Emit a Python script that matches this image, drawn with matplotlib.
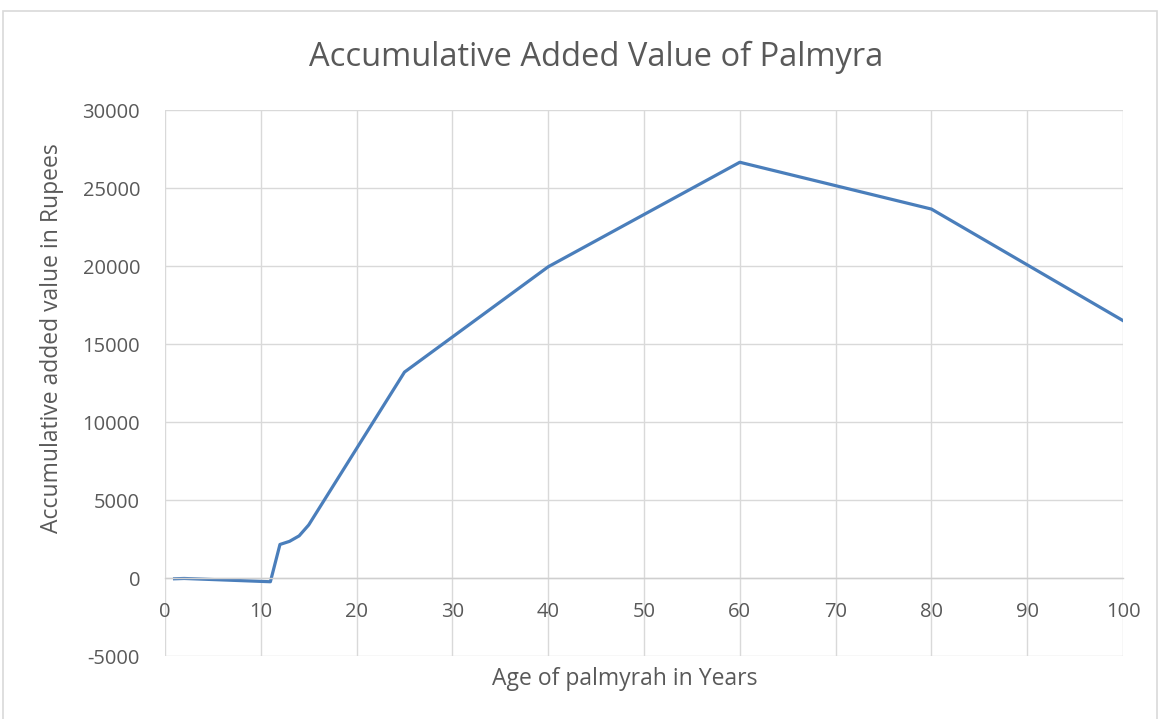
import matplotlib
matplotlib.use("Agg")
import matplotlib.pyplot as plt
from matplotlib.patches import Rectangle

ages = [1, 2, 11, 12, 13, 14, 15, 25, 40, 60, 80, 100]
values = [-50, -30, -240, 2150, 2350, 2700, 3400, 13200, 19950, 26650, 23650, 16500]
x_ticks = list(range(0, 101, 10))
y_ticks = list(range(-5000, 30001, 5000))

plt.rcParams['font.family'] = ['Open Sans', 'DejaVu Sans']
plt.rcParams['axes.unicode_minus'] = False
text_color = '#595959'

fig = plt.figure(figsize=(11.6, 7.19), dpi=100)
fig.patches.append(Rectangle((3/1160, -0.01), 1154/1160, 1 - 11/719 + 0.01,
                             transform=fig.transFigure, fill=False,
                             edgecolor='#d9d9d9', linewidth=1.2))
ax = fig.add_axes([165/1160, (719-656)/719, 958/1160, 546/719])
ax.plot(ages, values, color='#4a7ebb', linewidth=2.3, solid_joinstyle='round')
ax.set_xlim(0, 100)
ax.set_ylim(-5000, 30000)
ax.set_xticks(x_ticks)
ax.set_yticks(y_ticks)
ax.grid(True, color='#d9d9d9', linewidth=1.0)
ax.set_axisbelow(True)
for s in ['top', 'right', 'left']:
    ax.spines[s].set_visible(False)
ax.spines['bottom'].set_position(('data', 0))
ax.spines['bottom'].set_color('#cfcfcf')
ax.spines['bottom'].set_linewidth(1.0)
ax.tick_params(axis='both', length=0, labelsize=14.5, labelcolor=text_color)
ax.tick_params(axis='y', pad=18)
ax.tick_params(axis='x', pad=17)
fig.text(596/1160, 1 - 57/719, 'Accumulative Added Value of Palmyra', fontsize=23.5,
         color=text_color, ha='center', va='center')
fig.text(625/1160, 1 - 679/719, 'Age of palmyrah in Years', fontsize=16.5,
         color=text_color, ha='center', va='center')
fig.text(52/1160, 1 - 338/719, 'Accumulative added value in Rupees', fontsize=16.5,
         color=text_color, ha='center', va='center', rotation=90)
fig.savefig('out.png', dpi=100)
